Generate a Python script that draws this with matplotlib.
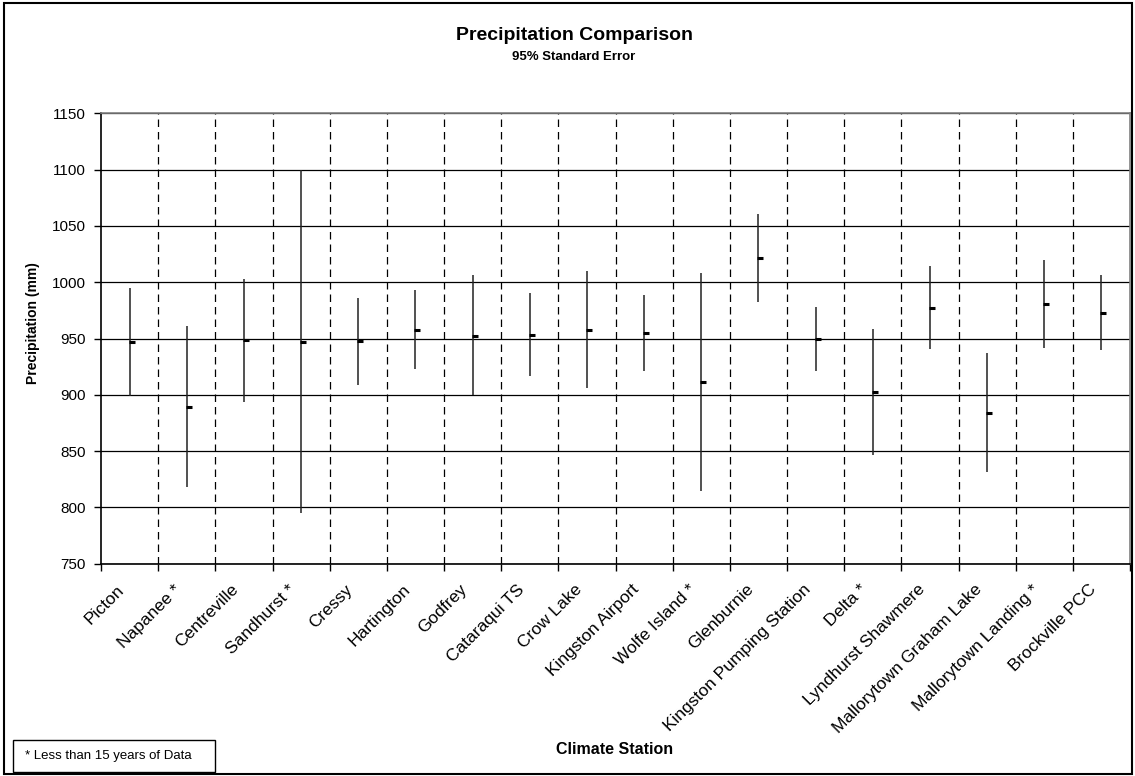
import matplotlib
matplotlib.use('Agg')
import matplotlib.pyplot as plt
import matplotlib.transforms as mtransforms
from matplotlib.patches import Rectangle
import numpy as np

# station names (asterisk = less than 15 years of data)
stations = ['Picton', 'Napanee *', 'Centreville', 'Sandhurst *', 'Cressy',
            'Hartington', 'Godfrey', 'Cataraqui TS', 'Crow Lake',
            'Kingston Airport', 'Wolfe Island *', 'Glenburnie',
            'Kingston Pumping Station', 'Delta *', 'Lyndhurst Shawmere',
            'Mallorytown Graham Lake', 'Mallorytown Landing *', 'Brockville PCC']
mean_precip = [947, 889.6, 949, 947.3, 948, 957.9, 952.6, 953.5, 957.9,
               955.3, 911.8, 1021.6, 949.7, 902.6, 977.2, 884, 980.7, 973]
upper = [994.7, 961.2, 1002.9, 1100, 985.8, 993.2, 1006.5, 990.2, 1010.3,
         989, 1008, 1060.3, 977.8, 958.5, 1014.5, 937, 1019.8, 1006.5]
lower = [898.5, 817.7, 894, 795, 908.8, 922.8, 899.4, 916.8, 905.6,
         921.5, 815, 982.5, 920.7, 846.1, 940.5, 831, 941.4, 939.9]
y_ticks = [750, 800, 850, 900, 950, 1000, 1050, 1100, 1150]

plt.rcParams['font.family'] = ['Liberation Sans', 'DejaVu Sans']

W, H = 1135, 776
fig = plt.figure(figsize=(W / 100, H / 100), dpi=100)
ax = fig.add_axes([101 / W, 1 - 563.7 / H, (1130 - 101) / W, (563.7 - 113.3) / H])

n = len(stations)
x = np.arange(n) + 0.5

# horizontal grid
for v in y_ticks:
    ax.axhline(v, color='black', lw=0.9, zorder=1)
# dashed separators between stations
for b in range(1, n):
    ax.axvline(b, color='black', lw=0.9, ls=(0, (6, 4)), zorder=1)

ax.vlines(x, lower, upper, color='#222222', lw=1.1, zorder=3)
offs = mtransforms.offset_copy(ax.transData, fig=fig, x=2, y=0, units='dots')
ax.plot(x, mean_precip, ls='none', marker='_', ms=5, mew=2.2, color='black',
        transform=offs, zorder=4)

ax.set_xlim(0, n)
ax.set_ylim(750, 1150)
ax.set_yticks(y_ticks)
ax.set_yticklabels([str(v) for v in y_ticks], fontsize=11)
ax.set_xticks(np.arange(n + 1))
ax.set_xticklabels([])
ax.set_xticks(x, minor=True)
ax.set_xticklabels(stations, minor=True, rotation=45, ha='right',
                   rotation_mode='anchor', fontsize=12.5)
ax.tick_params(axis='x', which='minor', length=0, pad=8)
ax.tick_params(axis='both', which='major', direction='out', length=5,
               width=1, color='black')
ax.tick_params(axis='y', pad=6)

# nudge the slanted station labels left/down like the original
shift = mtransforms.ScaledTranslation(-0.13, -0.07, fig.dpi_scale_trans)
for lbl in ax.get_xticklabels(minor=True):
    lbl.set_transform(lbl.get_transform() + shift)

for s in ['left', 'bottom']:
    ax.spines[s].set_color('black')
    ax.spines[s].set_linewidth(1.2)
for s in ['top', 'right']:
    ax.spines[s].set_color('#808080')
    ax.spines[s].set_linewidth(1.2)

fig.text(574 / W, 1 - 35 / H, 'Precipitation Comparison', ha='center',
         va='center', fontsize=14, fontweight='bold')
fig.text(574 / W, 1 - 57 / H, '95% Standard Error', ha='center',
         va='center', fontsize=9.5, fontweight='bold')
fig.text(33 / W, 1 - 323 / H, 'Precipitation (mm)', ha='center', va='center',
         rotation=90, fontsize=10, fontweight='bold')
fig.text(615 / W, 1 - 749 / H, 'Climate Station', ha='center', va='center',
         fontsize=11.5, fontweight='bold')

# footnote box
fig.patches.append(Rectangle((13 / W, 1 - 772 / H), 202 / W, 32 / H,
                             transform=fig.transFigure, fill=False,
                             edgecolor='black', lw=1))
fig.text(25 / W, 1 - 756 / H, '* Less than 15 years of Data', ha='left',
         va='center', fontsize=9.5)

# outer chart border
fig.patches.append(Rectangle((4 / W, 2 / H), (W - 7) / W, (H - 4.5) / H,
                             transform=fig.transFigure, fill=False,
                             edgecolor='black', lw=1.5))

fig.savefig('out.png', dpi=100)
